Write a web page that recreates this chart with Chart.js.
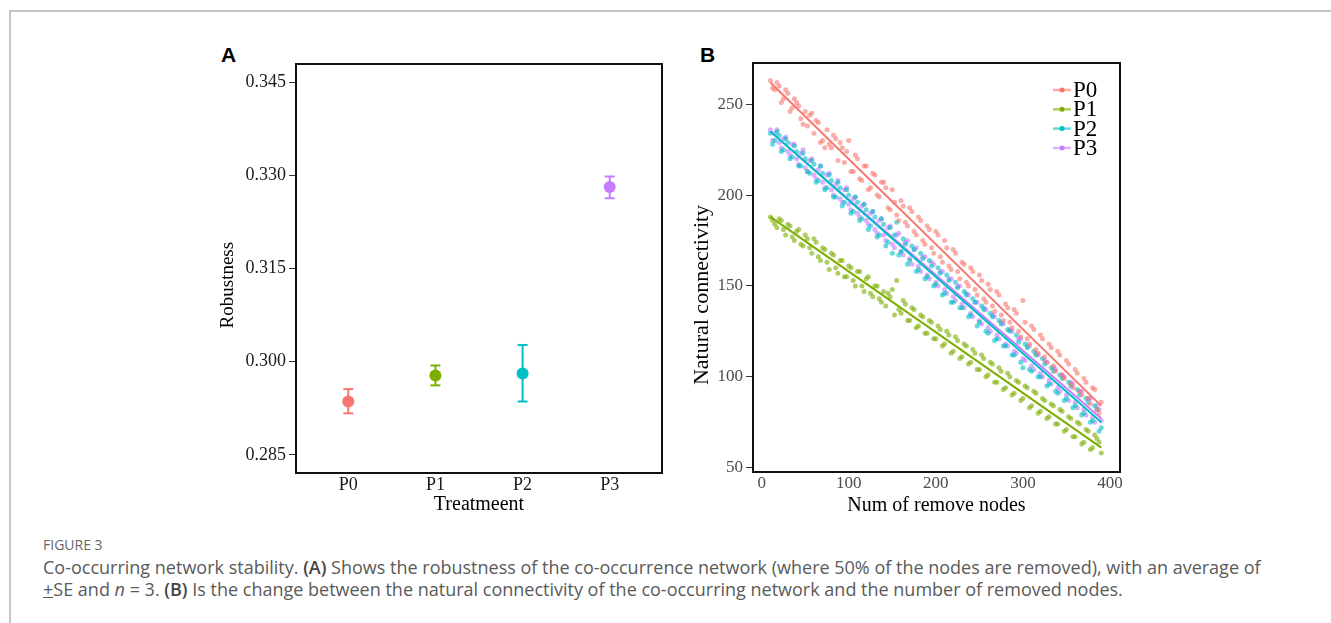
<!DOCTYPE html>
<html>
<head>
<meta charset="utf-8">
<script src="https://cdn.jsdelivr.net/npm/chart.js@4.4.0/dist/chart.umd.min.js"></script>
<style>
  body { margin: 0; width: 1331px; height: 623px; overflow: hidden; background: #fff; position: relative; }
  .frame { position: absolute; left: 9px; top: 10px; right: -5px; bottom: -5px; border-top: 2px solid #c6c6c6; border-left: 2px solid #c6c6c6; }
  #wrapA { position: absolute; left: 200px; top: 40px; width: 480px; height: 480px; }
  #wrapB { position: absolute; left: 680px; top: 40px; width: 450px; height: 480px; }
  .tag { position: absolute; font: bold 21px "Liberation Sans", Arial, sans-serif; color: #000; line-height: 22px; }
  .figno { position: absolute; left: 43px; top: 536px; font: 14px "Open Sans", sans-serif; color: #666; line-height: 18px; }
  .caption { position: absolute; left: 43px; top: 556px; font: 18px "Open Sans", sans-serif; color: #5a5a5a; line-height: 22px; white-space: nowrap; }
  .caption b { font-weight: 600; color: #444; }
  .pm { text-decoration: underline; }
</style>
</head>
<body>
<div class="frame"></div>
<div class="tag" style="left:221px; top:44px;">A</div>
<div class="tag" style="left:700px; top:44px;">B</div>
<div id="wrapA"><canvas id="graficoRobustez" width="480" height="480"></canvas></div>
<div id="wrapB"><canvas id="graficoConectividad" width="450" height="480"></canvas></div>
<div class="figno">FIGURE 3</div>
<div class="caption">Co-occurring network stability. <b>(A)</b> Shows the robustness of the co-occurrence network (where 50% of the nodes are removed), with an average of<br><span class="pm">+</span>SE and <i>n</i> = 3. <b>(B)</b> Is the change between the natural connectivity of the co-occurring network and the number of removed nodes.</div>

<script>
// Panel A: robustness (media y error estandar)
const treatments = ["P0", "P1", "P2", "P3"];
const colores = ["#F8766D", "#7CAE00", "#00BFC4", "#C77CFF"];
const coloresSuaves = ["rgba(248,118,109,0.6)", "rgba(124,174,0,0.6)", "rgba(0,191,196,0.6)", "rgba(199,124,255,0.6)"];
const robustMean = [0.2936, 0.2978, 0.2981, 0.3281];
const robustLow = [0.2917, 0.2962, 0.2936, 0.3263];
const robustHigh = [0.2956, 0.2994, 0.3027, 0.3298];
const yTicksA = [0.285, 0.300, 0.315, 0.330, 0.345];

// Panel B: natural connectivity vs nodos removidos (dos pasadas de lectura)
const nodesRemoved = [10, 15, 20, 25, 30, 35, 40, 45, 50, 55, 60, 65, 70, 75, 80, 85, 90, 95, 100, 105,
  110, 115, 120, 125, 130, 135, 140, 145, 150, 155, 160, 165, 170, 175, 180, 185, 190, 195, 200, 205,
  210, 215, 220, 225, 230, 235, 240, 245, 250, 255, 260, 265, 270, 275, 280, 285, 290, 295, 300, 305,
  310, 315, 320, 325, 330, 335, 340, 345, 350, 355, 360, 365, 370, 375, 380, 385, 390];
const connP0 = [263, 258, 260, 253, 256, 248, 251, 242, 246, 244, 234, 240, 230, 236, 226, 231, 229, 218, 230, 213,
  220, 208, 216, 204, 211, 199, 207, 193, 203, 189, 197, 185, 193, 180, 188, 175, 183, 171, 180, 166,
  175, 161, 170, 158, 163, 152, 160, 148, 156, 143, 151, 139, 147, 134, 140, 130, 137, 125, 142, 121,
  128, 115, 123, 111, 118, 106, 114, 101, 109, 96, 104, 92, 99, 88, 94, 82, 86];
const connP1 = [188, 184, 187, 181, 184, 177, 180, 173, 178, 171, 176, 166, 171, 163, 168, 160, 164, 155, 161, 153,
  158, 150, 154, 146, 150, 143, 147, 146, 148, 153, 135, 140, 131, 137, 128, 133, 124, 130, 121, 126,
  118, 123, 114, 120, 111, 117, 108, 113, 104, 110, 101, 107, 97, 103, 94, 100, 91, 97, 88, 94,
  84, 91, 81, 87, 78, 84, 74, 81, 71, 77, 67, 74, 64, 70, 61, 66, 58];
const connP2 = [234, 230, 233, 225, 229, 221, 224, 216, 220, 212, 217, 208, 212, 204, 208, 199, 204, 196, 200, 191,
  196, 187, 192, 183, 188, 178, 184, 174, 168, 185, 169, 173, 164, 170, 159, 165, 155, 161, 151, 157,
  146, 153, 141, 149, 138, 145, 134, 141, 130, 137, 124, 133, 121, 129, 117, 125, 112, 119, 105, 116,
  103, 112, 100, 107, 96, 103, 91, 99, 88, 95, 84, 90, 80, 86, 76, 82, 72];
const connP3 = [236, 234, 229, 231, 224, 228, 220, 223, 215, 219, 211, 214, 207, 211, 203, 206, 198, 203, 195, 198,
  190, 194, 186, 190, 181, 186, 178, 182, 173, 178, 169, 174, 165, 170, 161, 166, 156, 163, 152, 158,
  148, 154, 144, 150, 140, 146, 135, 141, 131, 138, 127, 134, 123, 130, 118, 126, 114, 121, 110, 117,
  106, 113, 102, 109, 98, 105, 94, 101, 90, 97, 86, 92, 82, 88, 78, 84, 76];

const nodesRemovedHalf = [12.5, 17.5, 22.5, 27.5, 32.5, 37.5, 42.5, 47.5, 52.5, 57.5, 62.5, 67.5, 72.5, 77.5, 82.5, 87.5, 92.5, 97.5, 102.5, 107.5,
  112.5, 117.5, 122.5, 127.5, 132.5, 137.5, 142.5, 147.5, 152.5, 157.5, 162.5, 167.5, 172.5, 177.5, 182.5, 187.5, 192.5, 197.5, 202.5, 207.5,
  212.5, 217.5, 222.5, 227.5, 232.5, 237.5, 242.5, 247.5, 252.5, 257.5, 262.5, 267.5, 272.5, 277.5, 282.5, 287.5, 292.5, 297.5, 302.5, 307.5,
  312.5, 317.5, 322.5, 327.5, 332.5, 337.5, 342.5, 347.5, 352.5, 357.5, 362.5, 367.5, 372.5, 377.5, 382.5, 387.5];
const connP0Half = [259, 262, 251, 258, 246, 253, 249, 239, 238, 245, 241, 229, 226, 228, 233, 219, 226, 224, 213, 222,
  209, 216, 203, 212, 200, 207, 204, 192, 196, 186, 194, 183, 191, 178, 186, 173, 181, 168, 178, 163,
  171, 159, 168, 154, 162, 150, 158, 145, 153, 141, 148, 136, 145, 131, 138, 127, 135, 122, 130, 118,
  126, 113, 121, 108, 116, 103, 112, 99, 107, 94, 102, 90, 97, 85, 93, 80];
const connP1Half = [186, 182, 186, 178, 183, 175, 181, 172, 176, 168, 174, 164, 170, 159, 167, 157, 164, 155, 160, 150,
  158, 147, 155, 144, 150, 141, 139, 144, 134, 137, 142, 131, 138, 127, 134, 124, 131, 121, 128, 117,
  125, 113, 122, 110, 118, 107, 115, 104, 112, 100, 108, 97, 105, 93, 102, 90, 98, 87, 95, 83,
  92, 80, 88, 77, 85, 74, 82, 70, 78, 67, 75, 63, 71, 60, 68, 64];
const connP2Half = [228, 235, 224, 231, 220, 227, 216, 223, 213, 219, 207, 216, 203, 211, 199, 207, 194, 203, 190, 199,
  186, 195, 181, 191, 177, 187, 172, 182, 178, 167, 176, 162, 172, 158, 168, 154, 164, 150, 160, 145,
  156, 141, 152, 138, 147, 133, 143, 128, 139, 125, 135, 120, 131, 117, 126, 112, 123, 108, 118, 104,
  114, 100, 110, 95, 105, 92, 101, 87, 97, 83, 93, 79, 88, 75, 84, 70];
const connP3Half = [230, 236, 226, 232, 222, 228, 217, 225, 213, 220, 209, 216, 204, 212, 200, 208, 196, 204, 192, 199,
  188, 195, 184, 191, 179, 187, 175, 183, 171, 179, 167, 175, 162, 171, 158, 166, 154, 162, 150, 158,
  146, 154, 142, 150, 138, 145, 133, 141, 129, 137, 125, 133, 121, 129, 117, 125, 113, 121, 109, 117,
  104, 112, 100, 108, 96, 104, 92, 100, 87, 96, 83, 92, 79, 88, 75, 82];

const fitX = [10, 390];
const fitP0 = [262, 84];
const fitP1 = [188, 61];
const fitP2 = [235, 75];
const fitP3 = [235, 77];
const xTicksB = [0, 100, 200, 300, 400];
const yTicksB = [50, 100, 150, 200, 250];

const serif = "'Liberation Serif', 'Times New Roman', serif";
// los titulos verticales del original estan un poco corridos hacia abajo
const NB = "\u00A0";

// marco negro alrededor del area del grafico
const marco = {
  id: "marco",
  afterDraw(chart) {
    const { ctx, chartArea } = chart;
    ctx.save();
    ctx.strokeStyle = "#111";
    ctx.lineWidth = 2;
    ctx.strokeRect(chartArea.left, chartArea.top, chartArea.right - chartArea.left, chartArea.bottom - chartArea.top);
    ctx.restore();
  }
};

// leyenda dentro del area (arriba a la derecha)
const leyendaInterna = {
  id: "leyendaInterna",
  afterDraw(chart) {
    const { ctx, chartArea } = chart;
    ctx.save();
    ctx.font = "23px " + serif;
    ctx.textBaseline = "middle";
    ctx.textAlign = "left";
    treatments.forEach((t, i) => {
      const y = chartArea.top + 27 + i * 19.3;
      const x0 = chartArea.right - 67;
      const x1 = chartArea.right - 49;
      ctx.strokeStyle = coloresSuaves[i];
      ctx.lineWidth = 2.5;
      ctx.beginPath();
      ctx.moveTo(x0, y);
      ctx.lineTo(x1, y);
      ctx.stroke();
      ctx.fillStyle = colores[i];
      ctx.beginPath();
      ctx.arc((x0 + x1) / 2, y, 2.5, 0, Math.PI * 2);
      ctx.fill();
      ctx.fillStyle = "#000";
      ctx.fillText(t, chartArea.right - 47, y + 1);
    });
    ctx.restore();
  }
};

function renderGraficoRobustez() {
  const datasets = [];

  datasets.push({
    label: "media",
    data: treatments.map((t, i) => ({ x: i + 1, y: robustMean[i] })),
    backgroundColor: colores,
    borderColor: colores,
    pointRadius: 6,
    pointBorderWidth: 0
  });

  treatments.forEach((t, i) => {
    datasets.push({
      label: t + " SE",
      data: [{ x: i + 1, y: robustLow[i] }, { x: i + 1, y: robustHigh[i] }],
      showLine: true,
      borderColor: colores[i],
      borderWidth: 2,
      pointStyle: "line",
      pointRadius: 5,
      pointBorderColor: colores[i],
      pointBorderWidth: 2
    });
  });

  new Chart(document.getElementById("graficoRobustez"), {
    type: "scatter",
    data: { datasets: datasets },
    options: {
      responsive: false,
      animation: false,
      events: [],
      layout: { padding: { top: 24, right: 18, left: 0, bottom: 0 } },
      plugins: { legend: { display: false }, tooltip: { enabled: false } },
      scales: {
        x: {
          type: "linear",
          min: 0.4,
          max: 4.6,
          afterBuildTicks: (s) => { s.ticks = treatments.map((t, i) => ({ value: i + 1 })); },
          afterFit: (s) => { s.height = 47; },
          grid: { display: false, drawTicks: false },
          border: { display: false },
          ticks: {
            padding: 1,
            maxRotation: 0,
            autoSkip: false,
            color: "#1a1a1a",
            font: { family: serif, size: 18 },
            callback: (v) => treatments[v - 1]
          },
          title: {
            display: true,
            text: "Treatmeent",
            color: "#000",
            font: { family: serif, size: 20 },
            padding: { top: 0, bottom: 3 }
          }
        },
        y: {
          min: 0.2821,
          max: 0.3479,
          afterBuildTicks: (s) => { s.ticks = yTicksA.map((v) => ({ value: v })); },
          afterFit: (s) => { s.width = 96; },
          grid: { display: true, drawOnChartArea: false, drawTicks: true, tickLength: 7, color: "#333" },
          border: { display: false },
          ticks: {
            padding: 3,
            color: "#1a1a1a",
            font: { family: serif, size: 18 },
            callback: (v) => v.toFixed(3)
          },
          title: {
            display: true,
            text: "Robustness" + NB.repeat(7),
            color: "#000",
            font: { family: serif, size: 19 },
            padding: { top: 17, bottom: 0 }
          }
        }
      }
    },
    plugins: [marco]
  });
}

function renderGraficoConectividad() {
  const series = [connP0, connP1, connP2, connP3];
  const seriesHalf = [connP0Half, connP1Half, connP2Half, connP3Half];
  const ajustes = [fitP0, fitP1, fitP2, fitP3];
  const datasets = [];

  // rectas de ajuste primero para que queden encima de los puntos
  [2, 3, 0, 1].forEach((i) => {
    datasets.push({
      label: treatments[i] + " ajuste",
      data: fitX.map((x, k) => ({ x: x, y: ajustes[i][k] })),
      showLine: true,
      borderColor: colores[i],
      borderWidth: 2,
      pointRadius: 0
    });
  });

  series.forEach((valores, i) => {
    const puntos = nodesRemoved.map((x, k) => ({ x: x, y: valores[k] }))
      .concat(nodesRemovedHalf.map((x, k) => ({ x: x, y: seriesHalf[i][k] })));
    datasets.push({
      label: treatments[i],
      data: puntos,
      backgroundColor: coloresSuaves[i],
      borderWidth: 0,
      pointRadius: 2.5
    });
  });

  new Chart(document.getElementById("graficoConectividad"), {
    type: "scatter",
    data: { datasets: datasets },
    options: {
      responsive: false,
      animation: false,
      events: [],
      layout: { padding: { top: 23, right: 10, left: 0, bottom: 0 } },
      plugins: { legend: { display: false }, tooltip: { enabled: false } },
      scales: {
        x: {
          type: "linear",
          min: -10,
          max: 411.5,
          afterBuildTicks: (s) => { s.ticks = xTicksB.map((v) => ({ value: v })); },
          afterFit: (s) => { s.height = 48; },
          grid: { display: false, drawTicks: false },
          border: { display: false },
          ticks: {
            padding: 1,
            maxRotation: 0,
            autoSkip: false,
            color: "#4d4d4d",
            font: { family: serif, size: 17 }
          },
          title: {
            display: true,
            text: "Num of remove nodes",
            color: "#000",
            font: { family: serif, size: 20 },
            padding: { top: 0, bottom: 2 }
          }
        },
        y: {
          min: 47.6,
          max: 272.7,
          afterBuildTicks: (s) => { s.ticks = yTicksB.map((v) => ({ value: v })); },
          afterFit: (s) => { s.width = 73; },
          grid: { display: true, drawOnChartArea: false, drawTicks: true, tickLength: 7, color: "#333" },
          border: { display: false },
          ticks: {
            padding: 3,
            color: "#4d4d4d",
            font: { family: serif, size: 17 }
          },
          title: {
            display: true,
            text: "Natural connectivity" + NB.repeat(10),
            color: "#000",
            font: { family: serif, size: 22 },
            padding: { top: 9, bottom: 0 }
          }
        }
      }
    },
    plugins: [marco, leyendaInterna]
  });
}

renderGraficoRobustez();
renderGraficoConectividad();
</script>
</body>
</html>
